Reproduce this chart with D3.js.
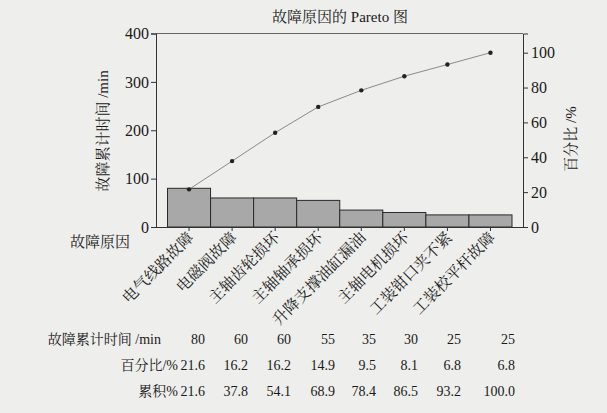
<!DOCTYPE html>
<html><head><meta charset="utf-8">
<script src="https://cdn.jsdelivr.net/npm/d3@7"></script>
<style>
body{margin:0;background:#eeeeec;}
svg{display:block;}
text{font-family:'Liberation Serif','Noto Serif CJK SC','Noto Sans CJK SC',serif;fill:#1a1a1a;}
</style></head>
<body>
<svg id="chart" width="607" height="413"></svg>
<script>
const categories = ["电气线路故障","电磁阀故障","主轴齿轮损坏","主轴轴承损坏","升降支撑油缸漏油","主轴电机损坏","工装钳口夹不紧","工装校平杆故障"];
const times = [80,60,60,55,35,30,25,25];
const percent = [21.6,16.2,16.2,14.9,9.5,8.1,6.8,6.8];
const cumulative = [21.6,37.8,54.1,68.9,78.4,86.5,93.2,100.0];
const leftTicks = [0,100,200,300,400];
const rightTicks = [0,20,40,60,80,100];
const tableLabels = ["故障累计时间 /min","百分比/%","累积%"];

const svg = d3.select("#chart");
svg.append("rect").attr("width",607).attr("height",413).attr("fill","#eeeeec");

const L=156, R=523, T=33.5, B=227;
const x = d3.scaleBand().domain(categories).range([167.5,512]).padding(0);
const yL = d3.scaleLinear().domain([0,400]).range([B,T]);
const yR = d3.scaleLinear().domain([0,111]).range([B,T]);

// title
svg.append("text").attr("x",340).attr("y",19).attr("text-anchor","middle")
  .attr("dominant-baseline","middle").style("font-size","15px").text("故障原因的 Pareto 图");

// frame top
svg.append("line").attr("x1",L).attr("x2",R).attr("y1",T).attr("y2",T).attr("stroke","#666").attr("stroke-width",1);

// bars
svg.append("g").selectAll("rect").data(categories).join("rect")
  .attr("x",d=>x(d)).attr("width",x.bandwidth())
  .attr("y",(d,i)=>yL(times[i])).attr("height",(d,i)=>B-yL(times[i]))
  .attr("fill","#a8a8a8").attr("stroke","#2a2a2a").attr("stroke-width",1);

// axes
const gl = svg.append("g").attr("transform",`translate(${L},0)`)
  .call(d3.axisLeft(yL).tickValues(leftTicks).tickSize(5).tickPadding(2));
const gr = svg.append("g").attr("transform",`translate(${R},0)`)
  .call(d3.axisRight(yR).tickValues(rightTicks).tickSize(5).tickPadding(3));
const gb = svg.append("g").attr("transform",`translate(0,${B})`)
  .call(d3.axisBottom(x).tickSize(4).tickFormat(""));
gb.select(".domain").attr("d",`M${L},0.5H${R}`);
[gl,gr].forEach(g=>{
  g.selectAll("text").style("font-size","16px").style("font-family","'Liberation Serif',serif").attr("fill","#1a1a1a");
});
[gl,gr,gb].forEach(g=>{
  g.select(".domain").attr("stroke","#333");
  g.selectAll(".tick line").attr("stroke","#333");
});

// cumulative line
const line = d3.line().x((d,i)=>x(categories[i])+x.bandwidth()/2).y(d=>yR(d));
svg.append("path").datum(cumulative).attr("d",line).attr("fill","none").attr("stroke","#8a8a8a").attr("stroke-width",1);
svg.append("g").selectAll("circle").data(cumulative).join("circle")
  .attr("cx",(d,i)=>x(categories[i])+x.bandwidth()/2).attr("cy",d=>yR(d)).attr("r",2.2).attr("fill","#222");

// axis titles
svg.append("text").attr("transform","translate(105,131) rotate(-90)").attr("text-anchor","middle")
  .attr("dominant-baseline","middle").style("font-size","15px").text("故障累计时间 /min");
svg.append("text").attr("transform","translate(573,139) rotate(-90)").attr("text-anchor","middle")
  .attr("dominant-baseline","middle").style("font-size","15px").text("百分比 /%");

// category label
svg.append("text").attr("x",100).attr("y",244).attr("text-anchor","middle")
  .attr("dominant-baseline","middle").style("font-size","15px").text("故障原因");

// rotated category names
svg.append("g").selectAll("text").data(categories).join("text")
  .attr("transform",d=>`translate(${x(d)+x.bandwidth()/2+3},${B+9}) rotate(-45)`)
  .attr("text-anchor","end").attr("dominant-baseline","middle").style("font-size","15.5px").text(d=>d);

// table
const colRight = [205,248,291,335,376,418,461,515];
const rowY = [341,367,393];
const rows = [times.map(String), percent.map(d=>d.toFixed(1)), cumulative.map(d=>d.toFixed(1))];
const labelRight = [161,178,178];
rows.forEach((vals,r)=>{
  svg.append("text").attr("x",labelRight[r]).attr("y",rowY[r]).attr("text-anchor","end")
    .attr("dominant-baseline","middle").style("font-size","14px").text(tableLabels[r]);
  svg.append("g").selectAll("text").data(vals).join("text")
    .attr("x",(d,i)=>colRight[i]).attr("y",rowY[r]).attr("text-anchor","end")
    .attr("dominant-baseline","middle").style("font-size","14px").text(d=>d);
});
</script>
</body></html>
